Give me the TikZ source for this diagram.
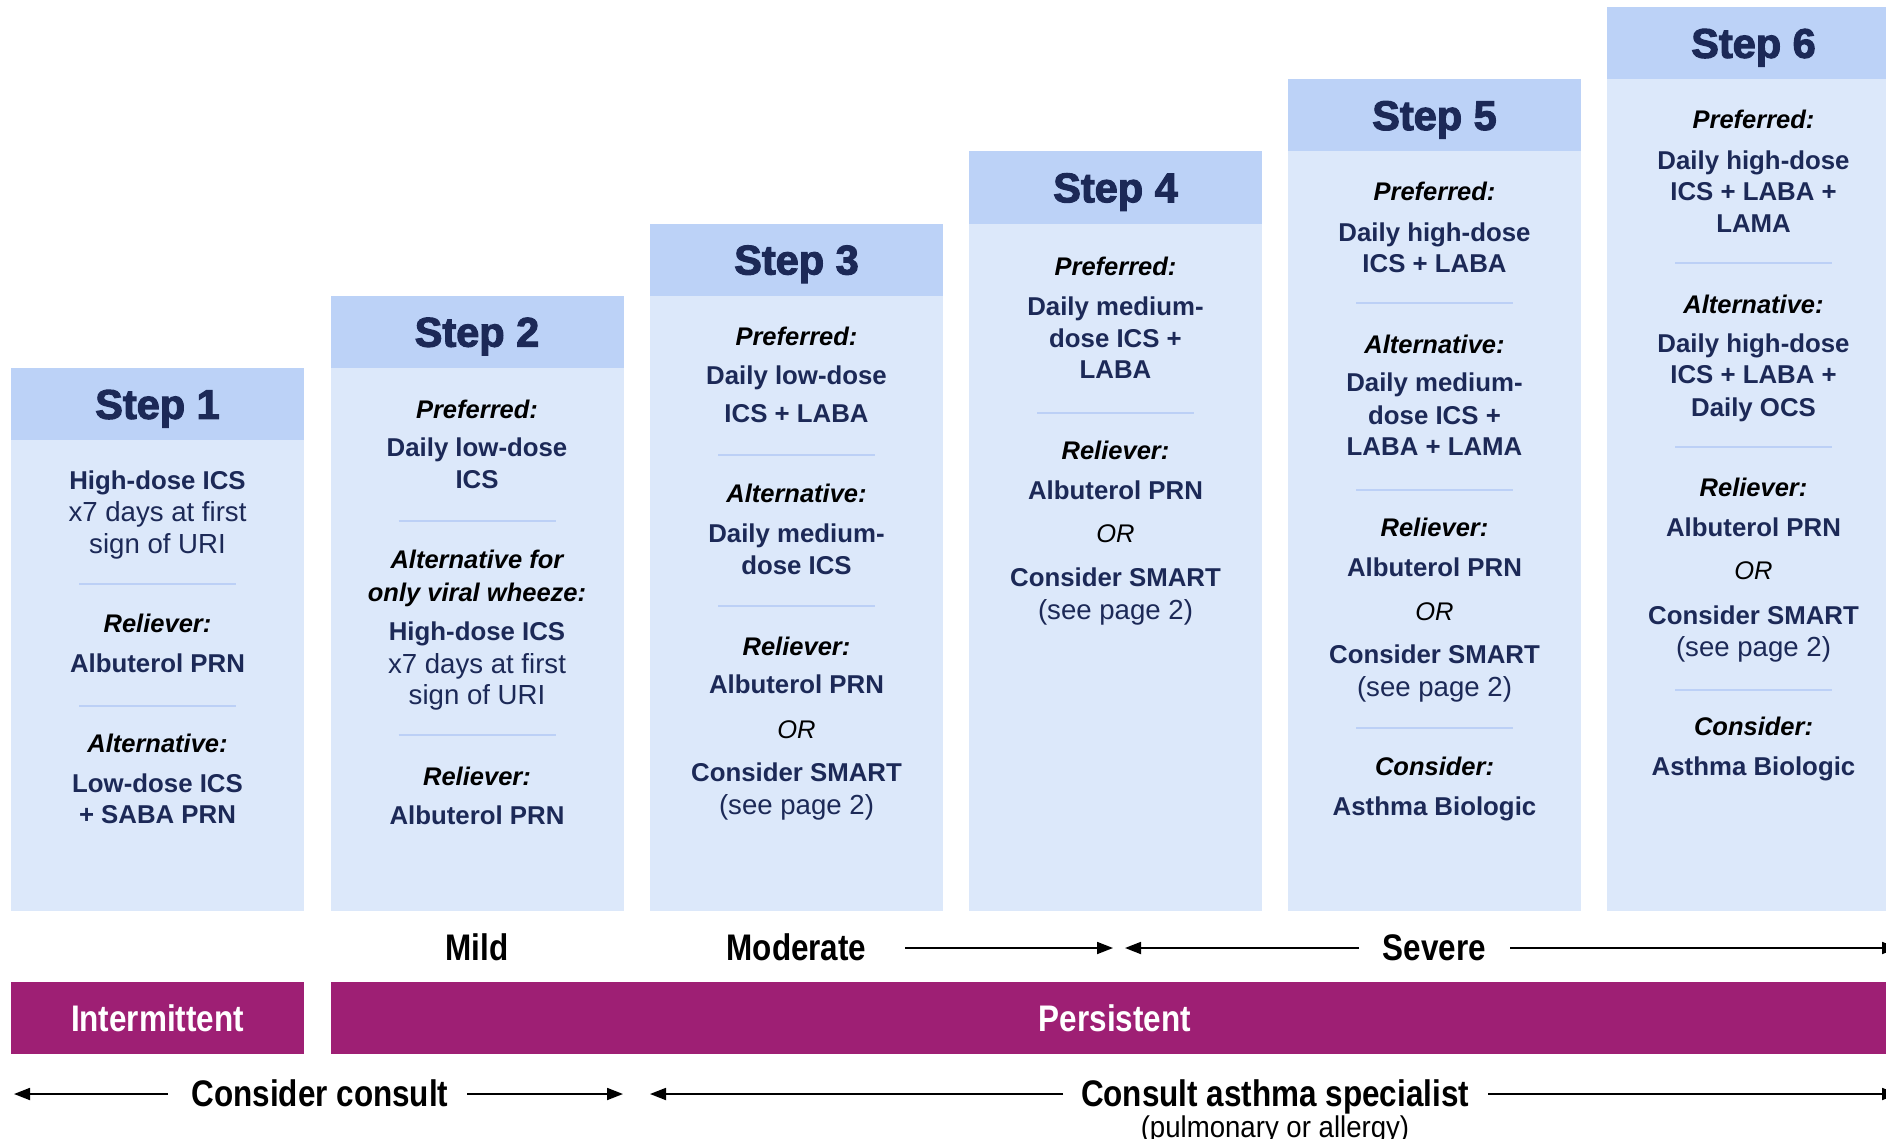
\documentclass[tikz,border=0pt]{standalone}
\usepackage{fontspec}
\setmainfont{Liberation Sans}
\newfontfamily\condf{Liberation Sans}[FakeStretch=0.85]
\newfontfamily\semicondf{Liberation Sans}[FakeStretch=0.92]
\newfontfamily\heavyf{Liberation Sans}[FakeBold=2.6]
\usetikzlibrary{arrows.meta}
\definecolor{hdrc}{RGB}{188,210,247}
\definecolor{bodyc}{RGB}{220,232,250}
\definecolor{sepc}{RGB}{188,208,246}
\definecolor{navy}{RGB}{28,41,87}
\definecolor{plum}{RGB}{158,31,116}
\tikzset{
  hdr/.style={fill=hdrc, minimum width=293pt, minimum height=72.2pt, inner sep=0pt,
    text=navy, font=\heavyf\bfseries\fontsize{41.5}{41}\selectfont, text height=29.5pt, text depth=0pt},
  blu/.style={inner sep=0pt, text=navy, font=\bfseries\fontsize{25.8}{30}\selectfont, text height=18.3pt, text depth=0pt},
  reg/.style={inner sep=0pt, text=navy, font=\fontsize{27.6}{30}\selectfont, text height=18pt, text depth=0pt},
  lab/.style={inner sep=0pt, text=black, font=\bfseries\itshape\fontsize{25.5}{30}\selectfont, text height=18.3pt, text depth=0pt},
  orr/.style={inner sep=0pt, text=black, font=\itshape\fontsize{25.5}{30}\selectfont, text height=18.3pt, text depth=0pt},
  sev/.style={inner sep=0pt, text=black, font=\condf\bfseries\fontsize{37}{40}\selectfont, text height=26.5pt, text depth=0pt},
  sub/.style={inner sep=0pt, text=black, font=\semicondf\fontsize{30}{34}\selectfont, text height=21.5pt, text depth=0pt},
  bar/.style={fill=plum, minimum height=72pt, inner sep=0pt, text=white,
    font=\condf\bfseries\fontsize{37}{40}\selectfont, text height=26.5pt, text depth=0pt},
  sepline/.style={draw=sepc, line width=2pt},
  arr/.style={draw=black, line width=1.8pt, -{Triangle[length=16pt,width=12pt]}}
}
\newcommand\tline[5]{\node[#1] (#2) at (#3,#4) {#5};}
\newcommand\sepl[2]{\draw[sepline] (#1-78.5,#2) -- (#1+78.5,#2);}
\begin{document}
\begin{tikzpicture}[x=1pt,y=-1pt]
\clip (0,0) rectangle (1886,1139);
\fill[white] (0,0) rectangle (1886,1139);
% bodies
\fill[bodyc] (11,440) rectangle (304,911);
\fill[bodyc] (331,368) rectangle (624,911);
\fill[bodyc] (650,296) rectangle (943,911);
\fill[bodyc] (969,224) rectangle (1262,911);
\fill[bodyc] (1288,151) rectangle (1581,911);
\fill[bodyc] (1607,79) rectangle (1900,911);
% headers
\node[hdr] (s1) at (157.5,404.1) {Step 1};
\node[hdr] (s2) at (477,331.9) {Step 2};
\node[hdr] (s3) at (796.5,259.7) {Step 3};
\node[hdr] (s4) at (1115.5,187.5) {Step 4};
\node[hdr] (s5) at (1434.5,115.3) {Step 5};
\node[hdr] (s6) at (1753.5,43.1) {Step 6};
% column 1
\tline{blu}{c1a}{157.5}{480}{High-dose ICS}
\tline{reg}{c1b}{157.5}{512}{x7 days at first}
\tline{reg}{c1c}{157.5}{544}{sign of URI}
\sepl{157.5}{584}
\tline{lab}{c1d}{157.5}{623}{Reliever:}
\tline{blu}{c1e}{157.5}{663}{Albuterol PRN}
\sepl{157.5}{706}
\tline{lab}{c1f}{157.5}{743}{Alternative:}
\tline{blu}{c1g}{157.5}{783}{Low-dose ICS}
\tline{blu}{c1h}{157.5}{814}{+ SABA PRN}
% column 2
\tline{lab}{c2a}{477}{409}{Preferred:}
\tline{blu}{c2b}{477}{447}{Daily low-dose}
\tline{blu}{c2c}{477}{479}{ICS}
\sepl{477}{521}
\tline{lab}{c2d}{477}{559}{Alternative for}
\tline{lab}{c2e}{477}{592}{only viral wheeze:}
\tline{blu}{c2f}{477}{631}{High-dose ICS}
\tline{reg}{c2g}{477}{664}{x7 days at first}
\tline{reg}{c2h}{477}{695}{sign of URI}
\sepl{477}{735}
\tline{lab}{c2i}{477}{776}{Reliever:}
\tline{blu}{c2j}{477}{815}{Albuterol PRN}
% column 3
\tline{lab}{c3a}{796.5}{336}{Preferred:}
\tline{blu}{c3b}{796.5}{375}{Daily low-dose}
\tline{blu}{c3c}{796.5}{413}{ICS + LABA}
\sepl{796.5}{455}
\tline{lab}{c3d}{796.5}{493}{Alternative:}
\tline{blu}{c3e}{796.5}{533}{Daily medium-}
\tline{blu}{c3f}{796.5}{565}{dose ICS}
\sepl{796.5}{606}
\tline{lab}{c3g}{796.5}{646}{Reliever:}
\tline{blu}{c3h}{796.5}{684}{Albuterol PRN}
\tline{orr}{c3i}{796.5}{729}{OR}
\tline{blu}{c3j}{796.5}{772}{Consider SMART}
\tline{reg}{c3k}{796.5}{805}{(see page 2)}
% column 4
\tline{lab}{c4a}{1115.5}{266}{Preferred:}
\tline{blu}{c4b}{1115.5}{306}{Daily medium-}
\tline{blu}{c4c}{1115.5}{338}{dose ICS +}
\tline{blu}{c4d}{1115.5}{369}{LABA}
\sepl{1115.5}{413}
\tline{lab}{c4e}{1115.5}{450}{Reliever:}
\tline{blu}{c4f}{1115.5}{490}{Albuterol PRN}
\tline{orr}{c4g}{1115.5}{533}{OR}
\tline{blu}{c4h}{1115.5}{577}{Consider SMART}
\tline{reg}{c4i}{1115.5}{610}{(see page 2)}
% column 5
\tline{lab}{c5a}{1434.5}{191}{Preferred:}
\tline{blu}{c5b}{1434.5}{232}{Daily high-dose}
\tline{blu}{c5c}{1434.5}{263}{ICS + LABA}
\sepl{1434.5}{303}
\tline{lab}{c5d}{1434.5}{344}{Alternative:}
\tline{blu}{c5e}{1434.5}{382}{Daily medium-}
\tline{blu}{c5f}{1434.5}{415}{dose ICS +}
\tline{blu}{c5g}{1434.5}{446}{LABA + LAMA}
\sepl{1434.5}{490}
\tline{lab}{c5h}{1434.5}{527}{Reliever:}
\tline{blu}{c5i}{1434.5}{567}{Albuterol PRN}
\tline{orr}{c5j}{1434.5}{611}{OR}
\tline{blu}{c5k}{1434.5}{654}{Consider SMART}
\tline{reg}{c5l}{1434.5}{687}{(see page 2)}
\sepl{1434.5}{728}
\tline{lab}{c5m}{1434.5}{766}{Consider:}
\tline{blu}{c5n}{1434.5}{806}{Asthma Biologic}
% column 6
\tline{lab}{c6a}{1753.5}{119}{Preferred:}
\tline{blu}{c6b}{1753.5}{160}{Daily high-dose}
\tline{blu}{c6c}{1753.5}{191}{ICS + LABA +}
\tline{blu}{c6d}{1753.5}{223}{LAMA}
\sepl{1753.5}{263}
\tline{lab}{c6e}{1753.5}{304}{Alternative:}
\tline{blu}{c6f}{1753.5}{343}{Daily high-dose}
\tline{blu}{c6g}{1753.5}{374}{ICS + LABA +}
\tline{blu}{c6h}{1753.5}{407}{Daily OCS}
\sepl{1753.5}{447}
\tline{lab}{c6i}{1753.5}{487}{Reliever:}
\tline{blu}{c6j}{1753.5}{527}{Albuterol PRN}
\tline{orr}{c6k}{1753.5}{570}{OR}
\tline{blu}{c6l}{1753.5}{615}{Consider SMART}
\tline{reg}{c6m}{1753.5}{647}{(see page 2)}
\sepl{1753.5}{690}
\tline{lab}{c6n}{1753.5}{726}{Consider:}
\tline{blu}{c6o}{1753.5}{766}{Asthma Biologic}
% severity row
\tline{sev}{mild}{477}{947}{Mild}
\tline{sev}{mod}{796.5}{947}{Moderate}
\tline{sev}{sevr}{1434.5}{947}{Severe}
\coordinate (a1s) at (905,948);
\coordinate (a1e) at (1113,948);
\coordinate (a2s) at (1359,948);
\coordinate (a2e) at (1125,948);
\coordinate (a3s) at (1510,948);
\coordinate (a3e) at (1898,948);
\draw[arr] (a1s) -- (a1e);
\draw[arr] (a2s) -- (a2e);
\draw[arr] (a3s) -- (a3e);
% bars
\node[bar, minimum width=293pt] (inter) at (157.5,1018) {Intermittent};
\node[bar, minimum width=1568pt] (pers) at (1115,1018) {Persistent};
% consult row
\tline{sev}{cc}{320}{1093}{Consider consult}
\tline{sev}{cas}{1275}{1093}{Consult asthma specialist}
\tline{sub}{pulm}{1275}{1127}{(pulmonary or allergy)}
\coordinate (b1s) at (168,1094);
\coordinate (b1e) at (14,1094);
\coordinate (b2s) at (467,1094);
\coordinate (b2e) at (623,1094);
\coordinate (b3s) at (1063,1094);
\coordinate (b3e) at (650,1094);
\coordinate (b4s) at (1488,1094);
\coordinate (b4e) at (1898,1094);
\draw[arr] (b1s) -- (b1e);
\draw[arr] (b2s) -- (b2e);
\draw[arr] (b3s) -- (b3e);
\draw[arr] (b4s) -- (b4e);
\end{tikzpicture}
\end{document}
